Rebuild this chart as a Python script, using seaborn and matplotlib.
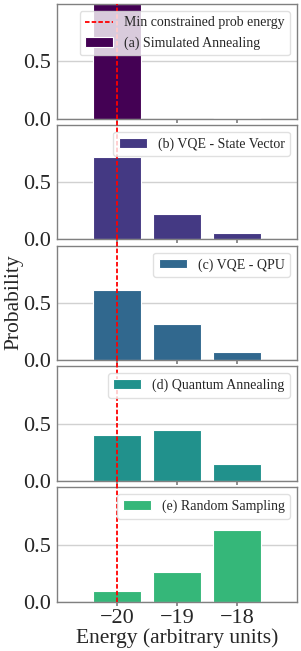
import matplotlib
matplotlib.use("Agg")
import matplotlib.pyplot as plt
import seaborn as sns

# Data
energies = [-20, -19, -18]
min_energy = -20
methods = ["(a) Simulated Annealing", "(b) VQE - State Vector", "(c) VQE - QPU",
           "(d) Quantum Annealing", "(e) Random Sampling"]
probs_sa = [0.995, 0.0, 0.005]
probs_vqe_sv = [0.72, 0.22, 0.06]
probs_vqe_qpu = [0.61, 0.32, 0.07]
probs_qa = [0.40, 0.45, 0.15]
probs_rs = [0.10, 0.26, 0.63]
colors = ["#440154", "#443983", "#31688e", "#21918c", "#35b779"]

all_probs = [probs_sa, probs_vqe_sv, probs_vqe_qpu, probs_qa, probs_rs]

sns.set_theme(style="whitegrid")
plt.rcParams["font.family"] = ["Liberation Serif", "DejaVu Serif"]
plt.rcParams["axes.edgecolor"] = "0.5"
plt.rcParams["axes.linewidth"] = 1.0
plt.rcParams["grid.color"] = "0.82"
plt.rcParams["grid.linewidth"] = 1.0
plt.rcParams["legend.edgecolor"] = "0.85"

fig, axes = plt.subplots(5, 1, sharex=True, sharey=True, figsize=(3.01, 6.51), dpi=100)
fig.subplots_adjust(left=0.189, right=0.987, top=0.994, bottom=0.0753, hspace=0.053)

for i, (ax, probs, name, c) in enumerate(zip(axes, all_probs, methods, colors)):
    sns.barplot(x=energies, y=probs, color=c, saturation=1, native_scale=True,
                errorbar=None, ax=ax, label=name, edgecolor="white", linewidth=0.8)
    # red reference line, stretched into the gap above each panel
    if i == 0:
        ax.axvline(min_energy, color="#ff0000", ls="--", lw=1.3, dashes=(2.5, 1.2),
                   zorder=3, label="Min constrained prob energy")
    else:
        ax.axvline(min_energy, color="#ff0000", ls="--", lw=1.3, dashes=(2.5, 1.2),
                   zorder=3, ymax=1.06, clip_on=False)
    ax.legend(loc="upper right", fontsize=10)
    ax.grid(axis="x", visible=False)
    ax.set_yticks([0, 0.5])
    ax.set_yticklabels(["0.0", "0.5"])
    ax.tick_params(axis="y", labelsize=16, left=False, length=0, pad=4)
    ax.tick_params(axis="x", labelsize=16, bottom=True, length=3, color="0.5", pad=2)
    ax.set_xlabel("")
    ax.set_ylabel("")

axes[0].set_ylim(0, 1.0)
axes[-1].set_xlim(-21, -17)
axes[-1].set_xticks(energies)
axes[-1].set_xlabel("Energy (arbitrary units)", fontsize=15.5, labelpad=0)
fig.text(0.015, 0.536, "Probability", rotation=90, ha="left", va="center", fontsize=15.5)

fig.savefig("out.png", dpi=100)
